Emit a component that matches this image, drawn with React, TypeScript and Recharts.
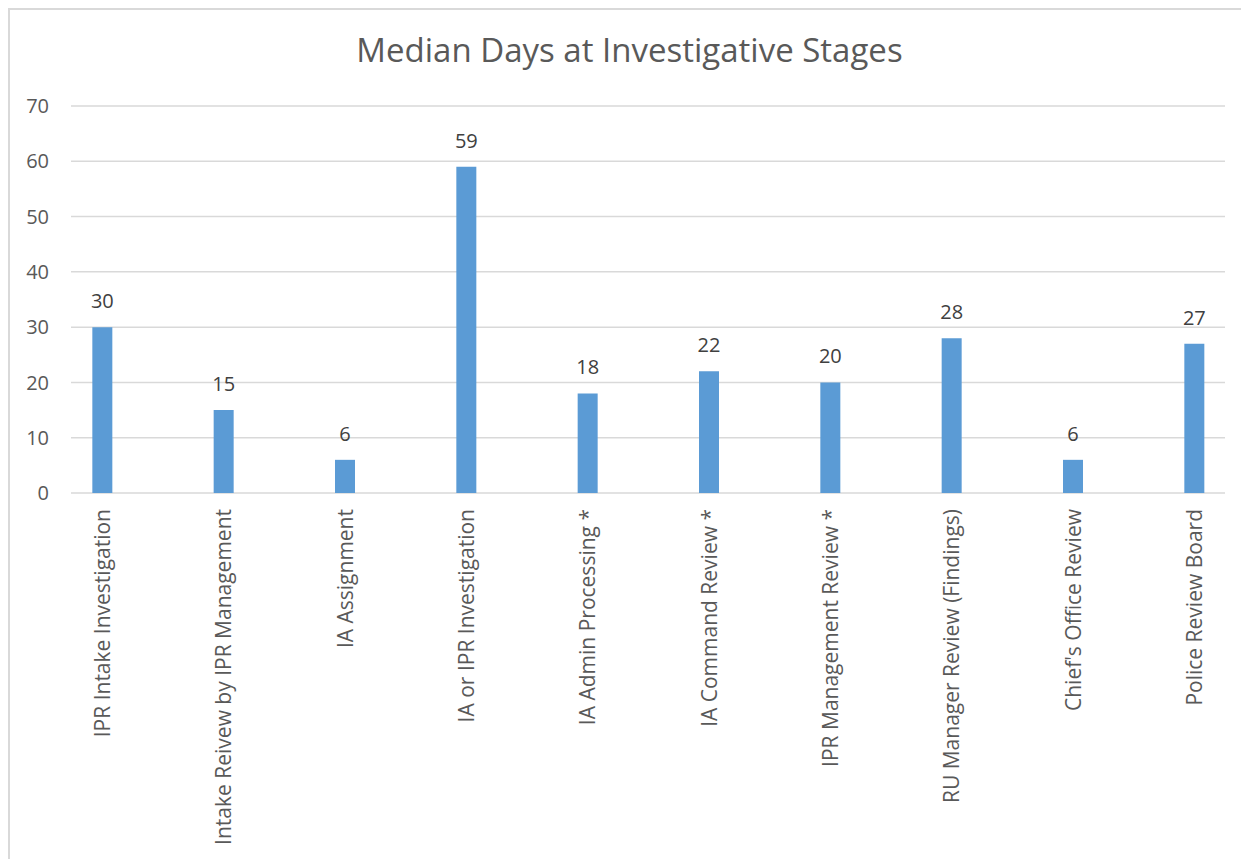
import { BarChart, Bar, XAxis, YAxis, CartesianGrid, LabelList } from 'recharts';

const categories = [
  'IPR Intake Investigation',
  'Intake Reivew by IPR Management',
  'IA Assignment',
  'IA or IPR Investigation',
  'IA Admin Processing *',
  'IA Command Review *',
  'IPR Management Review *',
  'RU Manager Review (Findings)',
  "Chief's Office Review",
  'Police Review Board',
];

const medianDays = [30, 15, 6, 59, 18, 22, 20, 28, 6, 27];

const yTicks = [0, 10, 20, 30, 40, 50, 60, 70];

const rows = categories.map((name, i) => ({ idx: i, name, value: medianDays[i] }));
const xTicks = rows.map((r) => r.idx);

const FONT = '"Open Sans", sans-serif';

function CategoryTick({ x, y, payload }: any) {
  const label = categories[payload.value] ?? '';
  return (
    <text
      x={x}
      y={y}
      transform={`rotate(-90, ${x}, ${y})`}
      textAnchor="end"
      dominantBaseline="central"
      fill="#595959"
      fontSize={21}
      fontFamily={FONT}
    >
      {label}
    </text>
  );
}

export default function App() {
  return (
    <div
      style={{
        position: 'relative',
        width: 1241,
        height: 851,
        boxSizing: 'border-box',
        borderTop: '2px solid #d9d9d9',
        borderLeft: '2px solid #d9d9d9',
        background: '#fff',
        fontFamily: FONT,
      }}
    >
      <div
        style={{
          position: 'absolute',
          top: 17,
          left: 0,
          width: '100%',
          textAlign: 'center',
          fontSize: 33,
          color: '#595959',
        }}
      >
        Median Days at Investigative Stages
      </div>
      <BarChart
        width={1239}
        height={849}
        data={rows}
        margin={{ top: 96, right: 24, bottom: 0, left: 0 }}
      >
        <CartesianGrid vertical={false} stroke="#d9d9d9" strokeWidth={1.5} />
        <XAxis
          type="number"
          dataKey="idx"
          domain={[-0.2555, 9.2555]}
          ticks={xTicks}
          interval={0}
          axisLine={false}
          tickLine={false}
          tickMargin={10}
          height={366}
          tick={<CategoryTick />}
        />
        <YAxis
          type="number"
          domain={[0, 70]}
          ticks={yTicks}
          width={61}
          axisLine={false}
          tickLine={false}
          tickMargin={16}
          tick={{ fill: '#595959', fontSize: 20, fontFamily: FONT }}
        />
        <Bar dataKey="value" fill="#5B9BD5" barSize={20} isAnimationActive={false}>
          <LabelList
            dataKey="value"
            position="top"
            offset={19}
            fill="#404040"
            fontSize={20}
            fontFamily={FONT}
          />
        </Bar>
      </BarChart>
    </div>
  );
}
